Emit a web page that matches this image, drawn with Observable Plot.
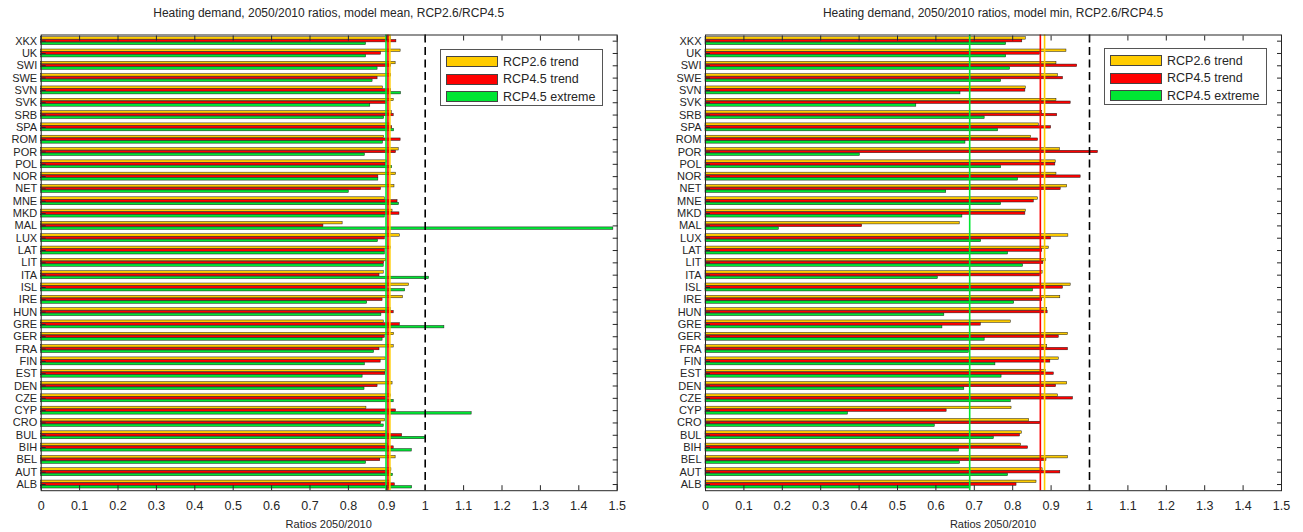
<!DOCTYPE html>
<html>
<head>
<meta charset="utf-8">
<script src="https://cdn.jsdelivr.net/npm/d3@7"></script>
<script src="https://cdn.jsdelivr.net/npm/@observablehq/plot@0.6"></script>
<style>
  body { margin: 0; background: #fff; font-family: "Liberation Sans", Arial, sans-serif; }
  #wrap { position: relative; width: 1303px; height: 532px; overflow: hidden; background: #fff; }
  .title { position: absolute; top: 6px; font-size: 12px; line-height: 14px; color: #262626; white-space: nowrap; transform: translateX(-50%); }
  .xlabel { position: absolute; top: 518px; font-size: 11px; line-height: 13px; color: #262626; white-space: nowrap; transform: translateX(-50%); }
  .panel { position: absolute; top: 22px; }
  .legend { position: absolute; box-sizing: border-box; border: 1px solid #555; background: #fff; width: 163px; height: 57px; }
  .item { position: absolute; left: 5px; height: 11px; display: flex; align-items: center; }
  .sw { width: 52px; height: 11px; border: 1px solid #444; box-sizing: border-box; }
  .lt { margin-left: 5px; font-size: 12.5px; color: #262626; white-space: nowrap; }
</style>
</head>
<body>
<div id="wrap"></div>
<script>
// Categories, bottom (y = 1) to top
const countries = ["ALB","AUT","BEL","BIH","BUL","CRO","CYP","CZE","DEN","EST","FIN","FRA","GER","GRE","HUN","IRE","ISL","ITA","LIT","LAT","LUX","MAL","MKD","MNE","NET","NOR","POL","POR","ROM","SPA","SRB","SVK","SVN","SWE","SWI","UK","XKX"];
const seriesNames = ["RCP2.6 trend", "RCP4.5 trend", "RCP4.5 extreme"];
const seriesColors = ["#ffcc00", "#ff0000", "#00e633"];

// Panel 1: model mean
const meanRcp26Trend  = [0.909,0.912,0.923,0.903,0.900,0.895,0.847,0.910,0.915,0.897,0.897,0.918,0.919,0.892,0.910,0.942,0.958,0.892,0.898,0.910,0.934,0.785,0.915,0.895,0.920,0.924,0.900,0.931,0.893,0.909,0.913,0.918,0.890,0.911,0.923,0.936,0.911];
const meanRcp45Trend  = [0.921,0.910,0.883,0.918,0.940,0.885,0.924,0.900,0.876,0.896,0.884,0.881,0.895,0.934,0.918,0.889,0.900,0.881,0.893,0.895,0.895,0.735,0.933,0.928,0.885,0.878,0.897,0.924,0.936,0.914,0.918,0.900,0.911,0.876,0.911,0.885,0.925];
const meanRcp45Extreme = [0.966,0.916,0.846,0.965,1.000,0.892,1.121,0.918,0.842,0.837,0.843,0.867,0.889,1.050,0.886,0.849,0.948,1.010,0.892,0.895,0.877,1.490,0.895,0.932,0.801,0.878,0.914,0.843,0.890,0.919,0.893,0.857,0.937,0.863,0.876,0.846,0.846];
const meanLines = [0.908, 0.903, 0.898]; // RCP2.6 trend, RCP4.5 trend, RCP4.5 extreme

// Panel 2: model min
const minRcp26Trend  = [0.862,0.878,0.944,0.822,0.824,0.843,0.797,0.918,0.942,0.886,0.920,0.890,0.944,0.795,0.890,0.924,0.951,0.878,0.886,0.894,0.945,0.662,0.834,0.866,0.942,0.914,0.912,0.923,0.848,0.868,0.877,0.914,0.834,0.918,0.914,0.940,0.834];
const minRcp45Trend  = [0.810,0.924,0.888,0.840,0.819,0.872,0.628,0.957,0.913,0.907,0.898,0.944,0.920,0.717,0.891,0.877,0.931,0.871,0.880,0.877,0.900,0.408,0.833,0.855,0.925,0.977,0.911,1.022,0.866,0.900,0.916,0.951,0.833,0.931,0.968,0.871,0.825];
const minRcp45Extreme = [0.690,0.788,0.663,0.660,0.751,0.597,0.371,0.795,0.674,0.771,0.755,0.686,0.727,0.617,0.622,0.804,0.853,0.605,0.827,0.788,0.718,0.191,0.669,0.770,0.627,0.814,0.770,0.402,0.677,0.762,0.727,0.549,0.664,0.770,0.793,0.783,0.783];
const minLines = [0.883, 0.872, 0.688];

const xTicks = [0,0.1,0.2,0.3,0.4,0.5,0.6,0.7,0.8,0.9,1,1.1,1.2,1.3,1.4,1.5];
const xTickLabels = ["0","0.1","0.2","0.3","0.4","0.5","0.6","0.7","0.8","0.9","1","1.1","1.2","1.3","1.4","1.5"];
const refLine = [1];

const titles = [
  "Heating demand, 2050/2010 ratios, model mean, RCP2.6/RCP4.5",
  "Heating demand, 2050/2010 ratios, model min, RCP2.6/RCP4.5"
];
const xLabel = "Ratios 2050/2010";

// layout constants (not data)
const OFFS = [0.222, 0, -0.222];
const HALF = 0.1;
const FONT = '"Liberation Sans", Arial, sans-serif';
const INK = "#262626";

function makePanel(series, lines, {left, width, marginLeft, marginRight}) {
  const yTicks = countries.map((c, i) => i + 1);
  const barMarks = series.map((vals, s) => {
    const rows = countries.map((c, i) => ({country: c, pos: i + 1, value: vals[i]}));
    return Plot.rect(rows, {
      x1: () => 0, x2: "value",
      y1: d => d.pos + OFFS[s] - HALF, y2: d => d.pos + OFFS[s] + HALF,
      fill: seriesColors[s], stroke: "#1a1a1a", strokeWidth: 0.5
    });
  });
  const lineMarks = [2, 1, 0].map(s => Plot.ruleX([lines[s]], {stroke: seriesColors[s], strokeWidth: 1.6}));
  const svg = Plot.plot({
    width, height: 510,
    marginTop: 12.5, marginBottom: 41.8, marginLeft, marginRight,
    style: {fontFamily: FONT, fontSize: "12px", color: INK, background: "#fff", overflow: "visible"},
    x: {domain: [0, 1.5]},
    y: {domain: [0.5, countries.length + 0.5]},
    marks: [
      ...barMarks,
      ...lineMarks,
      Plot.ruleX(refLine, {stroke: "#000", strokeWidth: 1.6, strokeDasharray: "8,4.5"}),
      Plot.frame({stroke: INK, strokeWidth: 1}),
      Plot.axisX({anchor: "bottom", ticks: xTicks, tickSize: -5, tickPadding: 15, tickFormat: d => xTickLabels[xTicks.indexOf(d)], fontSize: 12.5, label: null, stroke: INK}),
      Plot.axisX({anchor: "top", ticks: xTicks, tickSize: -5, tickFormat: () => "", label: null, stroke: INK}),
      Plot.axisY({anchor: "left", ticks: yTicks, tickSize: -5, tickPadding: 9, tickFormat: i => countries[i - 1], fontSize: 11, label: null, stroke: INK}),
      Plot.axisY({anchor: "right", ticks: yTicks, tickSize: -5, tickFormat: () => "", label: null, stroke: INK})
    ]
  });
  const div = document.createElement("div");
  div.className = "panel";
  div.style.left = left + "px";
  div.appendChild(svg);
  return div;
}

const wrap = document.getElementById("wrap");
const panels = [
  {series: [meanRcp26Trend, meanRcp45Trend, meanRcp45Extreme], lines: meanLines, left: 0, width: 651, marginLeft: 40.7, marginRight: 34.3, legendX: 440, legendY: 49},
  {series: [minRcp26Trend, minRcp45Trend, minRcp45Extreme], lines: minLines, left: 651, width: 652, marginLeft: 54, marginRight: 22, legendX: 1104, legendY: 48}
];
panels.forEach((p, k) => {
  wrap.appendChild(makePanel(p.series, p.lines, p));
  const cx = p.left + p.marginLeft + (p.width - p.marginLeft - p.marginRight) / 2;
  const t = document.createElement("div");
  t.className = "title"; t.style.left = cx + "px"; t.textContent = titles[k];
  wrap.appendChild(t);
  const xl = document.createElement("div");
  xl.className = "xlabel"; xl.style.left = cx + "px"; xl.textContent = xLabel;
  wrap.appendChild(xl);
  const lg = document.createElement("div");
  lg.className = "legend"; lg.style.left = p.legendX + "px"; lg.style.top = p.legendY + "px";
  seriesNames.forEach((name, s) => {
    const it = document.createElement("div");
    it.className = "item"; it.style.top = (6 + s * 17.5) + "px";
    const sw = document.createElement("div"); sw.className = "sw"; sw.style.background = seriesColors[s];
    const lt = document.createElement("div"); lt.className = "lt"; lt.textContent = name;
    it.appendChild(sw); it.appendChild(lt); lg.appendChild(it);
  });
  wrap.appendChild(lg);
});
</script>
</body>
</html>
